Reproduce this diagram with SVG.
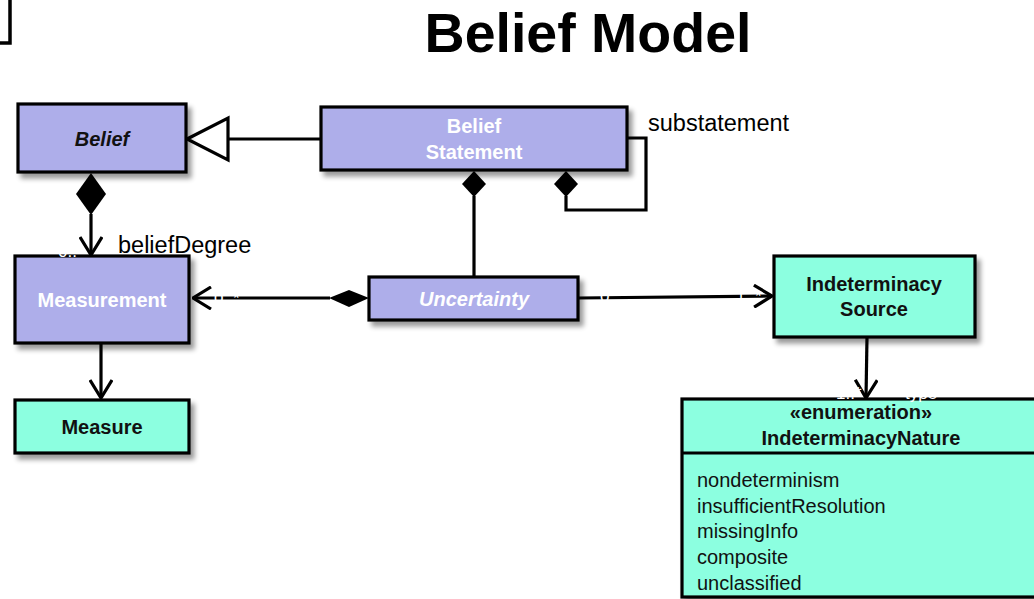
<svg xmlns="http://www.w3.org/2000/svg" width="1034" height="599" viewBox="0 0 1034 599">
  <defs>
    <filter id="shadow" x="-10%" y="-20%" width="130%" height="150%">
      <feGaussianBlur in="SourceAlpha" stdDeviation="2.5"/>
      <feOffset dx="4" dy="5" result="b"/>
      <feComponentTransfer><feFuncA type="linear" slope="0.4"/></feComponentTransfer>
      <feMerge><feMergeNode/><feMergeNode in="SourceGraphic"/></feMerge>
    </filter>
    <marker id="open" viewBox="0 0 20 24" refX="19" refY="12" markerWidth="20" markerHeight="24" markerUnits="userSpaceOnUse" orient="auto">
      <path d="M1,1 L19,12 L1,23" fill="none" stroke="#000" stroke-width="3.2"/>
    </marker>
  </defs>
  <style>
    .cls { stroke: #000; stroke-width: 3.2; filter: url(#shadow); }
    .lav { fill: #aeaeea; }
    .aqua { fill: #8cffe0; }
    .line { fill: none; stroke: #000; stroke-width: 3.2; }
    .dia { fill: #000; stroke: none; }
    text { font-family: "Liberation Sans", Arial, sans-serif; }
    .name { font-size: 20px; font-weight: bold; text-anchor: middle; }
    .white { fill: #ffffff; }
    .dark { fill: #111; }
    .lbl { font-size: 23.5px; fill: #000; }
    .mult { font-size: 17px; fill: #ffffff; }
    .lit { font-size: 20px; fill: #111; }
  </style>

  <!-- corner fragment -->
  <path d="M10,0 L10,43 L0,43" fill="none" stroke="#000" stroke-width="3.5"/>

  <text x="588" y="52" font-size="55.5" font-weight="bold" text-anchor="middle" fill="#000">Belief Model</text>

  <g id="connectors">
    <!-- Belief Statement generalizes Belief -->
    <line class="line" x1="228" y1="139" x2="321" y2="139"/>
    <path d="M187,139 L228,118 L228,160 Z" fill="#fff" stroke="#000" stroke-width="3.2"/>

    <!-- Belief composes Measurement (beliefDegree) -->
    <path class="dia" d="M91,173 L106,194 L91,215 L76,194 Z"/>
    <line class="line" x1="91" y1="214" x2="91" y2="255" marker-end="url(#open)"/>

    <!-- Measurement to Measure -->
    <line class="line" x1="101" y1="343" x2="101" y2="398" marker-end="url(#open)"/>

    <!-- Belief Statement composes Uncertainty -->
    <path class="dia" d="M474,171 L486,184 L474,197 L462,184 Z"/>
    <line class="line" x1="474" y1="196" x2="474" y2="277"/>

    <!-- substatement self association -->
    <path class="dia" d="M566,171 L578,184 L566,197 L554,184 Z"/>
    <path class="line" d="M566,196 L566,210 L646,210 L646,138 L627,138"/>

    <!-- Uncertainty composes Measurement -->
    <path class="dia" d="M329,298 L349,290 L369,298 L349,307 Z"/>
    <line class="line" x1="330" y1="298" x2="193" y2="298" marker-end="url(#open)"/>

    <!-- Uncertainty to Indeterminacy Source -->
    <line class="line" x1="578" y1="298" x2="772" y2="296" marker-end="url(#open)"/>

    <!-- Indeterminacy Source to IndeterminacyNature (type) -->
    <line class="line" x1="867" y1="337" x2="866" y2="398" marker-end="url(#open)"/>
  </g>

  <g id="belief">
    <rect class="cls lav" x="18" y="104" width="168" height="68"/>
    <text class="name dark" x="102" y="146" font-style="italic" font-size="21">Belief</text>
  </g>

  <g id="belief-statement">
    <rect class="cls lav" x="321" y="107" width="306" height="63"/>
    <text class="name white" x="474" y="133">Belief</text>
    <text class="name white" x="474" y="159">Statement</text>
  </g>

  <g id="measurement">
    <rect class="cls lav" x="15" y="256" width="174" height="87"/>
    <text class="name white" x="102" y="307">Measurement</text>
  </g>

  <g id="measure">
    <rect class="cls aqua" x="15" y="400" width="174" height="53"/>
    <text class="name dark" x="102" y="434">Measure</text>
  </g>

  <g id="uncertainty">
    <rect class="cls lav" x="369" y="277" width="209" height="43"/>
    <text class="name white" x="474" y="306" font-style="italic">Uncertainty</text>
  </g>

  <g id="indeterminacy-source">
    <rect class="cls aqua" x="774" y="256" width="201" height="81"/>
    <text class="name dark" x="874" y="291">Indeterminacy</text>
    <text class="name dark" x="874" y="316">Source</text>
  </g>

  <g id="indeterminacy-nature">
    <rect class="cls aqua" x="682" y="399" width="360" height="198"/>
    <line x1="682" y1="453" x2="1042" y2="453" stroke="#000" stroke-width="3.2"/>
    <text class="name dark" x="861" y="419">«enumeration»</text>
    <text class="name dark" x="861" y="445">IndeterminacyNature</text>
    <text class="lit" x="697" y="487">nondeterminism</text>
    <text class="lit" x="697" y="513">insufficientResolution</text>
    <text class="lit" x="697" y="538">missingInfo</text>
    <text class="lit" x="697" y="564">composite</text>
    <text class="lit" x="697" y="590">unclassified</text>
  </g>

  <g id="labels">
    <text class="lbl" x="648" y="131">substatement</text>
    <text class="lbl" x="118" y="253">beliefDegree</text>
    <text class="mult" x="58" y="257">0..*</text>
    <text class="mult" x="214" y="304">0..*</text>
    <text class="mult" x="600" y="302">0..*</text>
    <text class="mult" x="736" y="302">1..*</text>
    <text class="mult" x="836" y="399">1..*</text>
    <text class="mult" x="905" y="399">type</text>
  </g>
</svg>
